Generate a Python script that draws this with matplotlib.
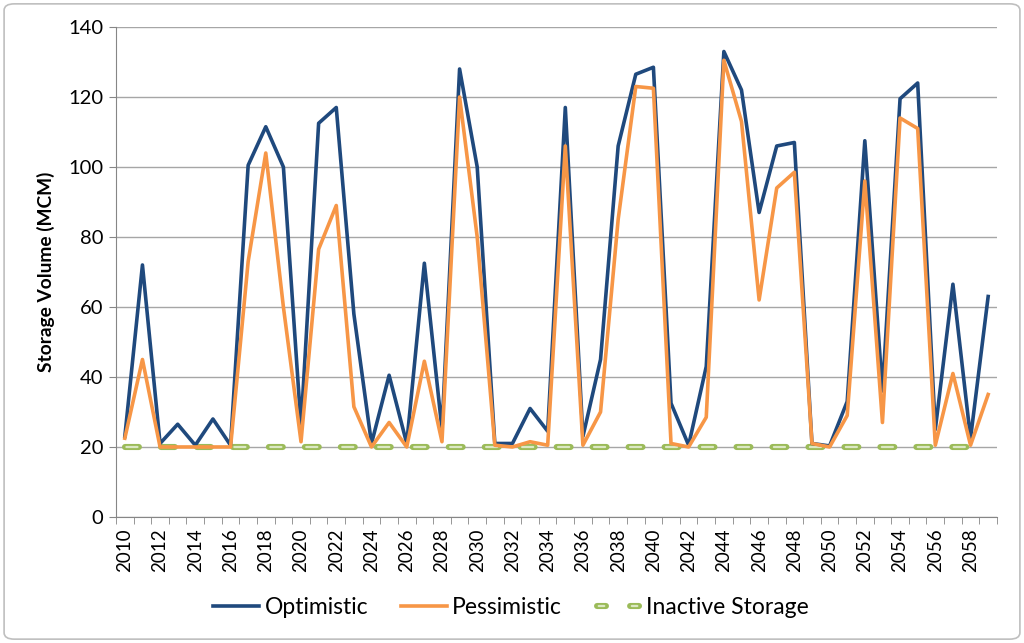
import numpy as np
import matplotlib
matplotlib.use("Agg")
import matplotlib.pyplot as plt
from matplotlib.patches import FancyBboxPatch
from matplotlib.lines import Line2D

years = list(range(2010, 2060))

optimistic = [23, 72, 21, 26.5, 20.5, 28, 20.5, 100.5, 111.5, 100,
              26, 112.5, 117, 58, 21, 40.5, 21, 72.5, 25, 128,
              100, 21, 21, 31, 24.5, 117, 23, 45, 106, 126.5,
              128.5, 32.5, 20.5, 43, 133, 122, 87, 106, 107, 21,
              20.3, 33, 107.5, 36, 119.5, 124, 25, 66.5, 22.5, 63]

pessimistic = [22.5, 45, 20, 20, 20, 20, 20, 73, 104, 60,
               21.5, 76.5, 89, 31.5, 20, 27, 20, 44.5, 21.5, 120,
               80, 20.5, 20, 21.5, 20.5, 106, 20.5, 30, 85, 123,
               122.5, 21, 20, 28.5, 130.5, 113, 62, 94, 98.5, 21,
               20, 29, 96, 27, 114, 111, 20.5, 41, 20.5, 35]

inactive = [20] * len(years)

plt.rcParams['font.family'] = ['Lato', 'DejaVu Sans']
plt.rcParams['lines.scale_dashes'] = False

fig = plt.figure(figsize=(10.24, 6.43), dpi=100)
ax = fig.add_axes([0.1133, 0.196, 0.8603, 0.762])

x = np.arange(len(years))

green_dark = '#9bbb59'
green_light = '#dbe8c4'

# inactive storage: hollow dashes (outline + light fill)
ax.plot(x, inactive, color=green_dark, lw=4.4, linestyle=(0, (10.0, 15.9)),
        dash_capstyle='round', zorder=2)
ax.plot(x, inactive, color=green_light, lw=1.6, linestyle=(24.9, (8.0, 17.9)),
        dash_capstyle='round', zorder=2)
ax.plot(x, optimistic, color='#1f497d', lw=2.6, zorder=3)
ax.plot(x, pessimistic, color='#f79646', lw=2.6, zorder=4)

ax.set_xlim(-0.5, len(years) - 0.5)
ax.set_ylim(0, 140)
ax.set_yticks(range(0, 141, 20))
ax.grid(axis='y', color='#a6a6a6', lw=1)
ax.set_axisbelow(True)

ax.set_xticks(x[::2])
ax.set_xticklabels([str(y) for y in years[::2]], rotation=90)
ax.set_xticks(np.arange(-0.5, len(years), 1), minor=True)
ax.tick_params(axis='x', which='major', length=0, pad=8, labelsize=13.5)
ax.tick_params(axis='x', which='minor', length=5, color='#868686')
ax.tick_params(axis='y', length=5, color='#868686', labelsize=14.5, pad=4)

for s in ['top', 'right']:
    ax.spines[s].set_visible(False)
for s in ['left', 'bottom']:
    ax.spines[s].set_color('#868686')

ax.set_ylabel('Storage Volume (MCM)', fontsize=13.8, fontweight='bold', labelpad=10)

h_inact_out = Line2D([], [], color=green_dark, lw=4.4, linestyle=(21.6, (6.4, 17.4)),
                     dash_capstyle='round')
h_inact_in = Line2D([], [], color=green_light, lw=1.6, linestyle=(20.4, (4.0, 19.8)),
                    dash_capstyle='round')
handles = [Line2D([], [], color='#1f497d', lw=2.6),
           Line2D([], [], color='#f79646', lw=2.6),
           (h_inact_out, h_inact_in)]
leg = fig.legend(handles, ['Optimistic', 'Pessimistic', 'Inactive Storage'],
                 loc='center', bbox_to_anchor=(0.499, 0.055), ncol=3, frameon=False,
                 fontsize=16.5, handlelength=2.0, handletextpad=0.25, columnspacing=1.4)

border = FancyBboxPatch((0.004, 0.006), 0.992, 0.988, boxstyle='round,pad=0,rounding_size=0.01',
                        transform=fig.transFigure, fill=False, ec='#bfbfbf', lw=1.2)
fig.patches.append(border)

fig.savefig('out.png', dpi=100)
